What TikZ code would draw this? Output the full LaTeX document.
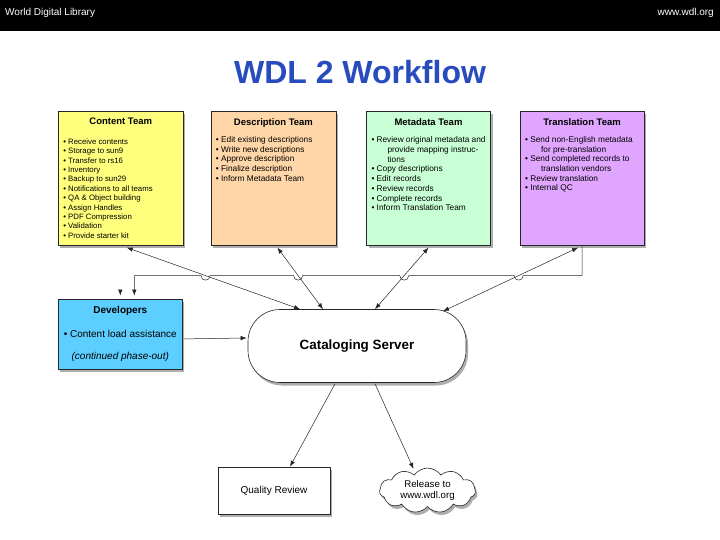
\documentclass[tikz,border=0pt]{standalone}
\usepackage{fontspec}
\setmainfont{Liberation Sans}
\usetikzlibrary{arrows.meta,positioning,calc,shadows,shapes.symbols}

\definecolor{contentyellow}{RGB}{255,255,125}
\definecolor{descpeach}{RGB}{255,214,168}
\definecolor{metagreen}{RGB}{200,255,212}
\definecolor{transviolet}{RGB}{224,166,255}
\definecolor{devblue}{RGB}{92,206,255}
\definecolor{titleblue}{RGB}{40,76,190}

\begin{document}
\begin{tikzpicture}[x=1pt,y=-1pt,
  shade/.style={drop shadow={shadow xshift=2pt,shadow yshift=-3pt,opacity=0.45,fill=black!70}},
  team/.style={draw=black!85,line width=0.6pt,shade,anchor=north west,inner xsep=5pt,inner ysep=0pt},
  box/.style={draw=black!85,line width=0.6pt,shade,align=center,fill=white},
  arr/.style={-{Latex[length=6pt,width=4.4pt]},line width=0.5pt,black!85},
  both/.style={{Latex[length=6pt,width=4.4pt]}-{Latex[length=6pt,width=4.4pt]},line width=0.5pt,black!85}
]
\useasboundingbox (0,0) rectangle (720,540);
\fill[white] (0,0) rectangle (720,540);

% header band
\fill[black] (0,0) rectangle (720,31);
\node[anchor=west,text=white,font=\fontsize{10}{12}\selectfont,inner sep=0pt] (wdl) at (5,13) {World Digital Library};
\node[anchor=east,text=white,font=\fontsize{10}{12}\selectfont,inner sep=0pt] (site) at (714,13) {www.wdl.org};
\node[text=titleblue,font=\fontsize{32}{34}\selectfont\bfseries] (title) at (360,72) {WDL 2 Workflow};

% team boxes
\node[team,fill=contentyellow] (content) at (58,111) {\begin{minipage}[t][134pt][t]{115pt}
\vspace*{7pt}\centering\fontsize{9.5}{11}\selectfont\bfseries Content Team\par
\vspace{10pt}\raggedright\fontsize{7.8}{9.4}\selectfont\mdseries
\textbullet\ Receive contents\\
\textbullet\ Storage to sun9\\
\textbullet\ Transfer to rs16\\
\textbullet\ Inventory\\
\textbullet\ Backup to sun29\\
\textbullet\ Notifications to all teams\\
\textbullet\ QA \& Object building\\
\textbullet\ Assign Handles\\
\textbullet\ PDF Compression\\
\textbullet\ Validation\\
\textbullet\ Provide starter kit
\end{minipage}};

\node[team,fill=descpeach,right=27pt of content] (desc) {\begin{minipage}[t][134pt][t]{115pt}
\vspace*{7pt}\centering\fontsize{9.5}{11}\selectfont\bfseries Description Team\par
\vspace{8pt}\raggedright\fontsize{8.3}{9.6}\selectfont\mdseries
\textbullet\ Edit existing descriptions\\
\textbullet\ Write new descriptions\\
\textbullet\ Approve description\\
\textbullet\ Finalize description\\
\textbullet\ Inform Metadata Team
\end{minipage}};

\node[team,fill=metagreen,right=30pt of desc] (meta) {\begin{minipage}[t][134pt][t]{114pt}
\vspace*{7pt}\centering\fontsize{9.5}{11}\selectfont\bfseries Metadata Team\par
\vspace{8pt}\raggedright\fontsize{8.3}{9.7}\selectfont\mdseries
\textbullet\ Review original metadata and\\
\hspace*{16pt}provide mapping instruc-\\
\hspace*{16pt}tions\\
\textbullet\ Copy descriptions\\
\textbullet\ Edit records\\
\textbullet\ Review records\\
\textbullet\ Complete records\\
\textbullet\ Inform Translation Team
\end{minipage}};

\node[team,fill=transviolet,right=29pt of meta] (trans) {\begin{minipage}[t][134pt][t]{114pt}
\vspace*{7pt}\centering\fontsize{9.5}{11}\selectfont\bfseries Translation Team\par
\vspace{8pt}\raggedright\fontsize{8.3}{9.6}\selectfont\mdseries
\textbullet\ Send non-English metadata\\
\hspace*{16pt}for pre-translation\\
\textbullet\ Send completed records to\\
\hspace*{16pt}translation vendors\\
\textbullet\ Review translation\\
\textbullet\ Internal QC
\end{minipage}};

% developers and server
\node[box,fill=devblue,minimum width=124pt,minimum height=70pt,
  below=53pt of content.south west,anchor=north west,font=\fontsize{10}{12}\selectfont] (dev)
  {\textbf{Developers}\\[12pt]\textbullet\ Content load assistance\\[10pt]\textit{(continued phase-out)}};

\node[box,rounded corners=32pt,minimum width=218pt,minimum height=73pt,
  font=\fontsize{13.4}{15}\selectfont\bfseries] (server) at (357,346) {Cataloging Server};

\node[box,minimum width=112pt,minimum height=47pt,font=\fontsize{10}{12}\selectfont] (qr) at (274,490.5) {Quality Review};
\node[box,cloud,cloud puffs=11,cloud puff arc=110,aspect=2.2,minimum width=96pt,minimum height=40pt,
  inner sep=0pt,font=\fontsize{9.7}{11.5}\selectfont] (cloud) at (427.5,490.5) {Release to\\www.wdl.org};

% connector end points
\coordinate (c1) at ($(content.south)+(6,2)$);
\coordinate (c2) at ($(desc.south)+(4,2)$);
\coordinate (c3) at ($(meta.south)+(0,2)$);
\coordinate (c4) at ($(trans.south)+(-4,2)$);
\coordinate (s1) at ($(server.north)+(-57,0)$);
\coordinate (s2) at ($(server.north)+(-34,0)$);
\coordinate (s3) at ($(server.north)+(18,0)$);
\coordinate (s4) at ($(server.north)+(86,2)$);
\coordinate (hr) at ($(trans.south)+(0,30)$);
\coordinate (hl) at ($(dev.north)+(14,-23)$);
\foreach \i in {1,...,4}
  \coordinate (h\i) at (intersection cs:first line={(c\i)--(s\i)},second line={(hl)--(hr)});

\foreach \i in {1,...,4}
  \draw[both] (c\i) -- (s\i);

% hand-off line to developers, hopping over the team arrows
\draw[arr] (trans.south) -- (hr)
  \foreach \h in {h4,h3,h2,h1} {
    -- ($(\h)+(4.5,0)$) .. controls ($(\h)+(4.5,6)$) and ($(\h)+(-4.5,6)$) .. ($(\h)+(-4.5,0)$)
  }
  -- (hl) -- ($(dev.north)+(14,-3)$);
\draw[arr] ($(dev.north)+(0,-9)$) -- ($(dev.north)+(0,-3)$);

\draw[arr] ($(dev.east)+(1,5)$) -- ($(server.west)+(-1,-8)$);
\draw[arr] ($(server.south)+(-22,1)$) -- ($(qr.north)+(16,0)$);
\draw[arr] ($(server.south)+(18,1)$) -- ($(cloud.north)+(-14,1)$);
\end{tikzpicture}
\end{document}
